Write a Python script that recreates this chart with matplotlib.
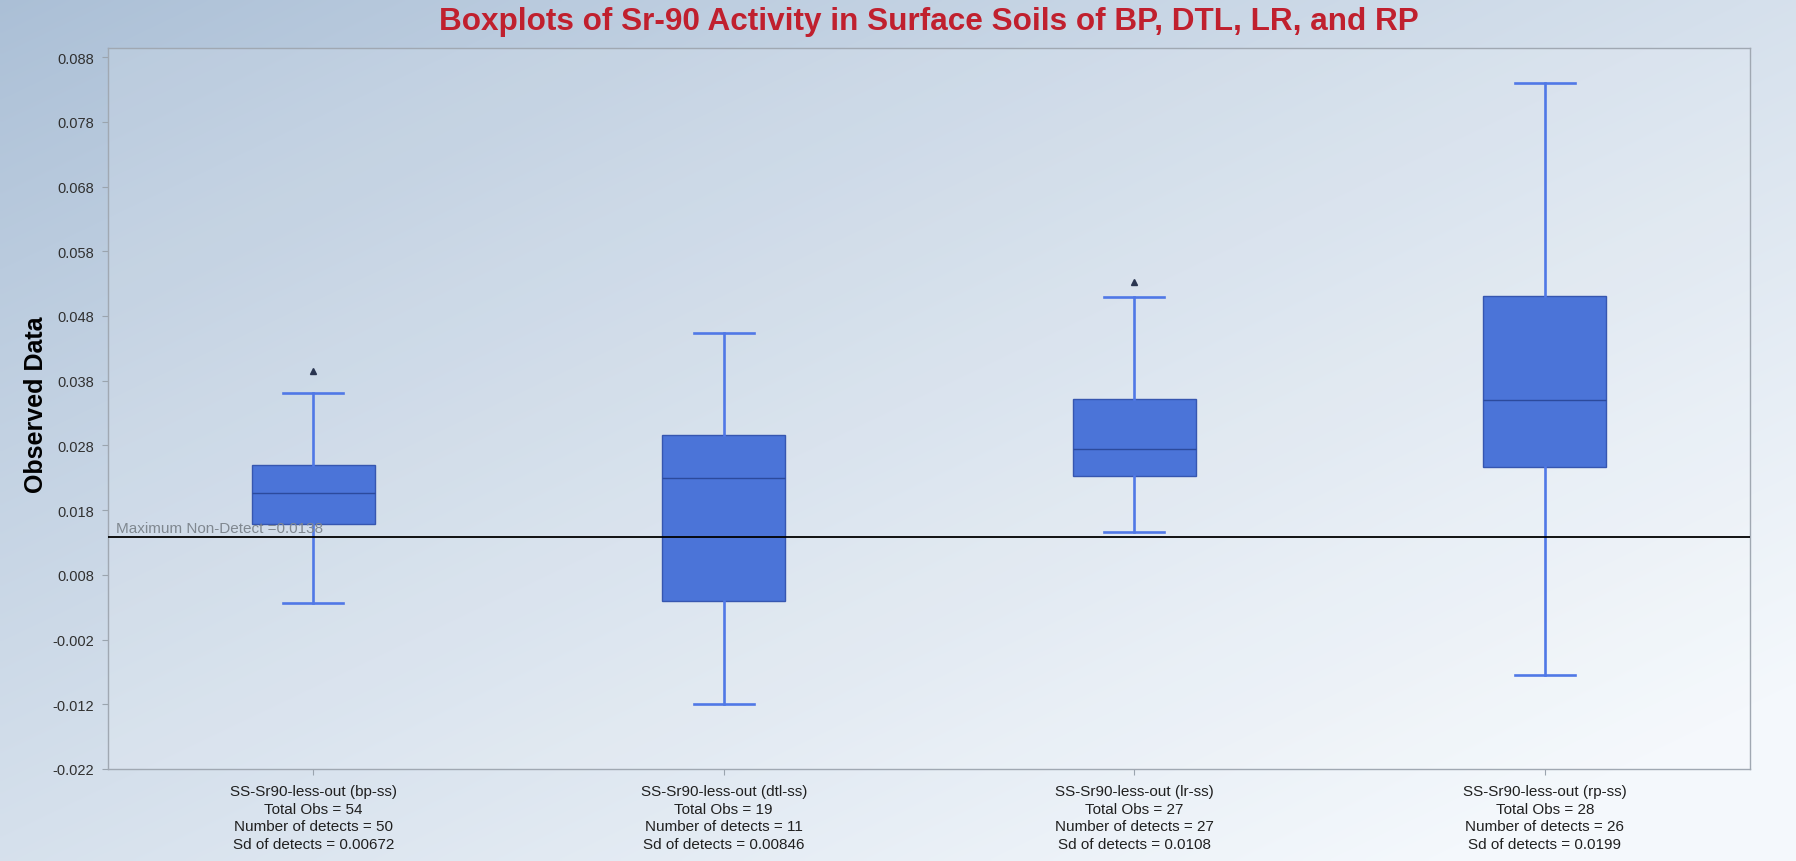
import numpy as np
import matplotlib
matplotlib.use("Agg")
import matplotlib.pyplot as plt

plt.rcParams['font.family'] = ['Liberation Sans', 'DejaVu Sans']

# ---------------- data ----------------
groups = ["bp-ss", "dtl-ss", "lr-ss", "rp-ss"]
total_obs = [54, 19, 27, 28]
n_detects = [50, 11, 27, 26]
sd_detects = ["0.00672", "0.00846", "0.0108", "0.0199"]

whisker_low = [0.0037, -0.0119, 0.0146, -0.0074]
q1 = [0.0159, 0.0039, 0.0233, 0.0246]
median = [0.0206, 0.0229, 0.0275, 0.0350]
q3 = [0.0250, 0.0296, 0.0352, 0.0511]
whisker_high = [0.0361, 0.0454, 0.0509, 0.0840]
outliers = [[0.0395], [], [0.0532], []]

max_non_detect = 0.0138
y_ticks = [0.088, 0.078, 0.068, 0.058, 0.048, 0.038, 0.028, 0.018, 0.008, -0.002, -0.012, -0.022]

title = "Boxplots of Sr-90 Activity in Surface Soils of BP, DTL, LR, and RP"
ylabel = "Observed Data"

# ---------------- figure ----------------
W, H, DPI = 1796, 862, 100
fig = plt.figure(figsize=(W / DPI, H / DPI), dpi=DPI)

# background gradient
bg = fig.add_axes([0, 0, 1, 1], zorder=-10)
xx, yy = np.meshgrid(np.linspace(0, 1, 400), np.linspace(0, 1, 200))
t = np.clip(0.55 * xx + 0.55 * yy, 0, 1) ** 0.9
c0 = np.array([0.67, 0.75, 0.84])
c1 = np.array([0.96, 0.975, 0.99])
img = c0[None, None, :] * (1 - t[..., None]) + c1[None, None, :] * t[..., None]
bg.imshow(img, aspect='auto', extent=[0, 1, 0, 1], origin='upper', interpolation='bilinear')
bg.set_xlim(0, 1)
bg.set_ylim(0, 1)
bg.axis('off')

ax = fig.add_axes([108 / W, 1 - 770 / H, (1750 - 108) / W, (770 - 49) / H])
ax.set_facecolor('none')

# plot-area slight lightening overlay
ax.add_patch(plt.Rectangle((0, 0), 1, 1, transform=ax.transAxes,
                           facecolor='white', alpha=0.12, edgecolor='none', zorder=0))

stats = []
for i, g in enumerate(groups):
    stats.append(dict(med=median[i], q1=q1[i], q3=q3[i],
                      whislo=whisker_low[i], whishi=whisker_high[i],
                      fliers=outliers[i], label=g))

positions = np.arange(len(groups))
ax.bxp(stats, positions=positions, widths=0.30, capwidths=0.147,
       patch_artist=True, showfliers=True,
       boxprops=dict(facecolor='#4b74d8', edgecolor='#3656b0', linewidth=1.0),
       medianprops=dict(color='#2c4a9c', linewidth=1.0),
       whiskerprops=dict(color='#5078e6', linewidth=1.9),
       capprops=dict(color='#5078e6', linewidth=1.9),
       flierprops=dict(marker='^', markersize=4.5, markerfacecolor='#2a3550',
                       markeredgecolor='#2a3550'))

ax.axhline(max_non_detect, color='black', linewidth=1.3, zorder=5)
ax.text(0.005, max_non_detect + 0.0004, f"Maximum Non-Detect ={max_non_detect}",
        transform=ax.get_yaxis_transform(), fontsize=11, color='#808890',
        ha='left', va='bottom', zorder=6)

ax.set_xlim(-0.5, len(groups) - 0.5)
ax.set_ylim(-0.0218, 0.0894)
ax.set_yticks(y_ticks)
ax.set_yticklabels([f"{v:.3f}" for v in y_ticks], fontsize=10.5, color='#303030')

xlabels = [f"SS-Sr90-less-out ({g})\nTotal Obs = {n}\nNumber of detects = {d}\nSd of detects = {s}"
           for g, n, d, s in zip(groups, total_obs, n_detects, sd_detects)]
ax.set_xticks(positions)
ax.set_xticklabels(xlabels, fontsize=11, color='#202020', linespacing=1.32)

ax.tick_params(axis='both', direction='out', length=4, color='#9aa4ae', pad=6)
ax.tick_params(axis='x', pad=7)

for sp in ax.spines.values():
    sp.set_color('#a0a8b2')
    sp.set_linewidth(1.0)

fig.text(36 / W, 1 - 405 / H, ylabel, fontsize=18, fontweight='bold', color='black',
         rotation=90, ha='center', va='center')

fig.text((108 + 1750) / 2 / W, 1 - 22 / H, title, fontsize=22.7, fontweight='bold',
         color='#c0202e', ha='center', va='center')

fig.savefig("out.png", dpi=DPI)
